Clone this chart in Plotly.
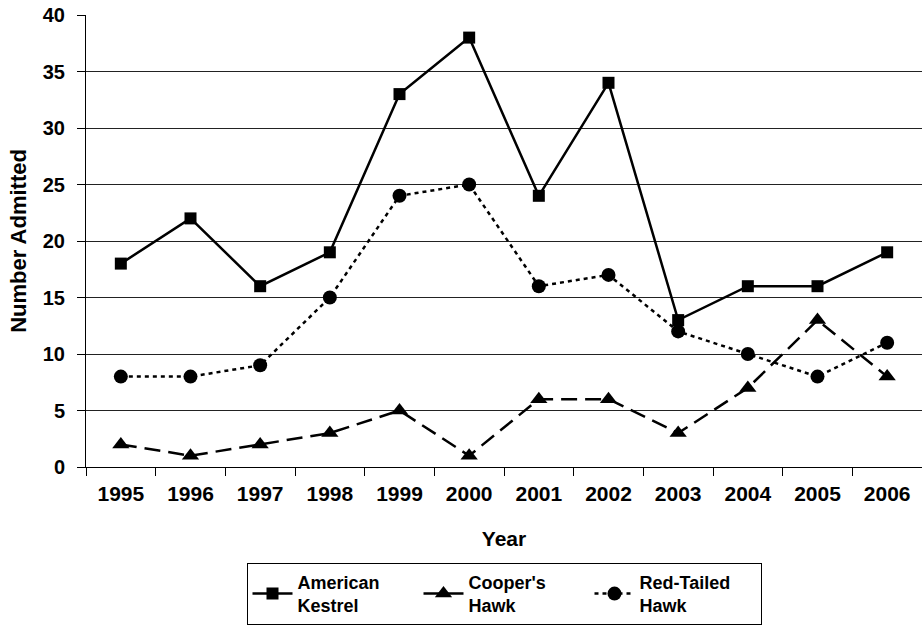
import plotly.graph_objects as go

years = ["1995", "1996", "1997", "1998", "1999", "2000", "2001", "2002", "2003", "2004", "2005", "2006"]
american_kestrel = [18, 22, 16, 19, 33, 38, 24, 34, 13, 16, 16, 19]
coopers_hawk = [2, 1, 2, 3, 5, 1, 6, 6, 3, 7, 13, 8]
red_tailed_hawk = [8, 8, 9, 15, 24, 25, 16, 17, 12, 10, 8, 11]
y_ticks = [0, 5, 10, 15, 20, 25, 30, 35, 40]

FONT = "Liberation Sans, Arial, sans-serif"

fig = go.Figure()
fig.add_trace(go.Scatter(
    x=years, y=american_kestrel, name="<b>American<br>Kestrel</b>", mode="lines+markers",
    line=dict(color="black", width=2.5, dash="solid"),
    marker=dict(symbol="square", size=12, color="black")))
fig.add_trace(go.Scatter(
    x=years, y=coopers_hawk, name="<b>Cooper's<br>Hawk</b>", mode="lines+markers",
    line=dict(color="black", width=2.5, dash="16px,8px"),
    marker=dict(symbol="triangle-up", size=15, color="black")))
fig.add_trace(go.Scatter(
    x=years, y=red_tailed_hawk, name="<b>Red-Tailed<br>Hawk</b>", mode="lines+markers",
    line=dict(color="black", width=2.5, dash="4px,4px"),
    marker=dict(symbol="circle", size=14, color="black")))

fig.update_layout(
    width=922, height=628,
    margin=dict(l=86, r=0, t=15, b=161, autoexpand=False),
    paper_bgcolor="white", plot_bgcolor="white",
    font=dict(family=FONT, color="black", size=20),
    showlegend=True,
    legend=dict(
        orientation="h", x=0.5, xanchor="center",
        yref="container", y=0.104, yanchor="top",
        bordercolor="black", borderwidth=1, bgcolor="white",
        font=dict(family=FONT, size=18, color="black"),
        itemwidth=40, entrywidth=116, entrywidthmode="pixels",
        tracegroupgap=0, traceorder="normal",
    ),
    xaxis=dict(
        type="category", range=[-0.5, 11.5], automargin=False,
        showline=True, linecolor="black", linewidth=1,
        ticks="outside", tickson="boundaries", ticklen=8, tickcolor="black",
        showgrid=False, zeroline=False,
        tickfont=dict(family=FONT, size=21, color="black", weight="bold"),
        ticklabelstandoff=8,
        title=dict(text="<b>Year</b>", font=dict(family=FONT, size=21), standoff=27),
    ),
    yaxis=dict(
        range=[0, 40], tickvals=y_ticks, automargin=False,
        showline=True, linecolor="black", linewidth=1,
        ticks="outside", ticklen=8, tickcolor="black",
        showgrid=True, gridcolor="#222222", gridwidth=1, zeroline=False,
        tickfont=dict(family=FONT, size=20, color="black", weight="bold"),
        ticklabelstandoff=8, ticklabeloverflow="allow",
        title=dict(text="<b>Number Admitted</b>", font=dict(family=FONT, size=22), standoff=10),
    ),
)

fig.write_html("out.html", config={"displayModeBar": False},
               post_script="document.body.style.margin='0';")
